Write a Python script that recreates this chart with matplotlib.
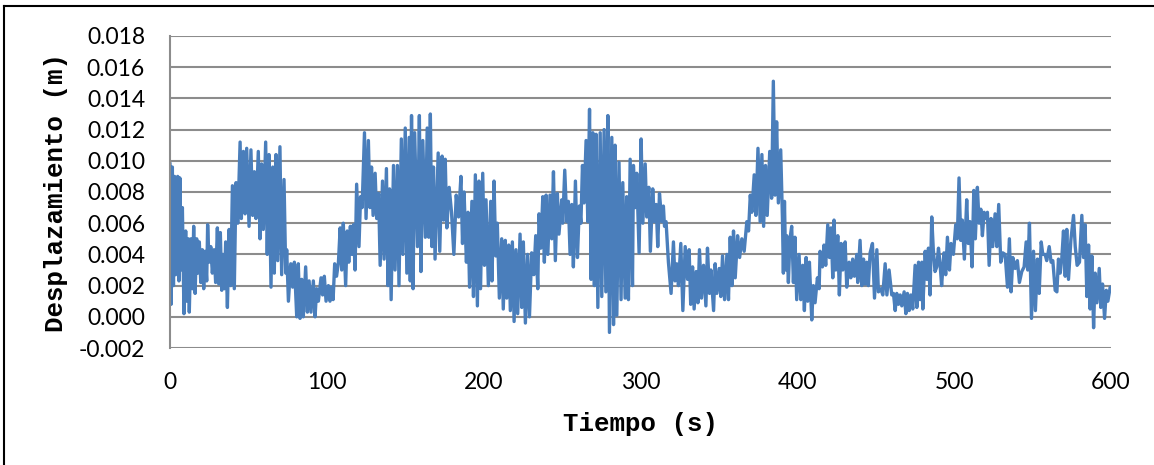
import matplotlib
matplotlib.use("Agg")
import matplotlib.pyplot as plt
from matplotlib.lines import Line2D

# time (s)
tiempo = [
    0.0, 0.7, 1.5, 2.2, 2.9, 3.6, 4.9, 5.7, 6.3, 7.0, 7.9, 8.9, 10.0, 10.6, 11.7, 12.3, 13.4, 14.3,
    15.1, 16.0, 17.0, 17.7, 18.7, 19.6, 20.6, 21.5, 22.3, 23.4, 24.0, 24.9, 26.0, 27.0, 28.1, 29.1,
    30.2, 31.1, 32.1, 33.0, 33.8, 34.7, 35.5, 36.6, 37.7, 38.7, 39.8, 41.0, 42.1, 43.2, 44.7, 45.5,
    46.8, 47.9, 48.9, 50.4, 51.6, 52.7, 53.8, 54.8, 56.3, 57.4, 58.4, 59.5, 61.0, 62.0, 63.1, 64.4,
    65.5, 66.5, 67.6, 68.7, 70.1, 71.2, 72.7, 73.8, 74.4, 75.5, 77.0, 78.2, 79.3, 80.8, 81.8, 82.9,
    84.0, 85.0, 86.5, 87.6, 88.7, 89.9, 91.4, 92.5, 93.5, 94.6, 96.3, 97.3, 98.4, 99.5, 101.0, 102.0,
    103.0, 104.0, 105.0, 106.2, 107.4, 108.5, 109.5, 110.5, 112.0, 113.0, 114.0, 115.0, 116.0, 117.0,
    118.0, 119.0, 120.5, 121.5, 122.5, 124.0, 125.0, 126.5, 127.5, 128.5, 129.5, 130.8, 131.8, 133.0,
    134.0, 135.5, 136.5, 138.0, 139.0, 140.0, 141.0, 142.5, 143.5, 145.0, 146.0, 147.5, 148.5, 150.0,
    151.0, 152.5, 153.2, 154.0, 155.0, 156.0, 157.8, 159.0, 160.0, 161.2, 162.8, 164.0, 165.0, 166.0,
    167.0, 168.0, 169.0, 171.0, 172.0, 173.5, 174.5, 175.5, 176.5, 178.0, 179.5, 181.0, 182.5, 184.0,
    185.5, 186.5, 187.5, 189.0, 190.0, 191.0, 192.5, 193.5, 194.7, 196.0, 197.0, 198.0, 199.4, 200.5,
    201.5, 203.0, 204.5, 205.3, 206.6, 207.7, 208.7, 210.0, 211.5, 212.5, 213.8, 214.7, 216.0, 217.0,
    218.3, 219.4, 220.6, 221.7, 223.2, 224.3, 225.3, 226.6, 228.0, 229.2, 230.6, 232.0, 233.2, 234.5,
    235.3, 236.4, 237.7, 238.7, 239.8, 240.9, 242.3, 243.4, 244.5, 245.7, 247.0, 248.0, 249.8, 250.4,
    251.7, 253.0, 254.0, 255.1, 256.2, 257.2, 258.5, 259.8, 261.0, 262.0, 263.0, 264.0, 265.3, 266.4,
    267.5, 268.5, 269.6, 270.6, 271.7, 272.8, 274.3, 275.3, 276.8, 277.9, 279.2, 280.2, 281.7, 282.8,
    283.8, 284.9, 286.3, 287.6, 288.7, 290.2, 291.2, 292.3, 293.4, 294.9, 295.5, 296.6, 297.6, 299.1,
    300.4, 301.5, 303.0, 304.0, 305.3, 306.3, 307.8, 308.9, 310.0, 311.0, 312.1, 313.6, 314.6, 315.3,
    316.3, 317.8, 319.5, 321.0, 322.0, 323.1, 324.2, 325.7, 327.0, 328.5, 330.0, 331.0, 332.0, 333.2,
    334.2, 335.5, 336.6, 337.6, 338.9, 340.2, 341.7, 342.7, 344.0, 344.9, 346.6, 347.6, 348.7, 350.2,
    351.2, 352.3, 353.6, 355.1, 356.1, 357.2, 358.3, 359.3, 360.4, 361.9, 363.2, 364.6, 366.1, 367.8,
    368.9, 370.0, 371.0, 372.5, 373.6, 374.9, 376.3, 377.4, 378.5, 379.7, 380.8, 382.4, 383.6, 384.7,
    385.8, 386.8, 387.9, 389.4, 390.5, 391.1, 391.8, 392.6, 393.2, 394.3, 395.3, 396.4, 397.5, 398.5,
    399.6, 401.1, 402.2, 403.4, 404.5, 405.6, 406.6, 407.7, 409.2, 410.2, 411.3, 412.8, 413.9, 414.5,
    416.0, 417.0, 418.1, 419.4, 420.5, 421.5, 422.6, 423.4, 424.5, 425.8, 426.8, 427.9, 429.0, 430.5,
    431.5, 433.0, 434.1, 435.3, 436.4, 437.9, 438.5, 440.0, 441.1, 442.2, 443.2, 444.3, 445.3, 446.4,
    447.9, 449.2, 450.7, 451.7, 453.2, 454.5, 456.0, 457.1, 458.5, 460.2, 461.3, 462.4, 463.4, 464.5,
    465.6, 466.6, 468.1, 469.2, 470.2, 471.3, 472.4, 473.6, 475.1, 476.2, 477.3, 478.3, 479.4, 480.0,
    481.5, 482.6, 483.6, 484.6, 485.7, 486.7, 487.8, 488.9, 490.0, 491.0, 492.0, 493.5, 494.6, 495.7,
    497.0, 498.0, 499.5, 501.0, 502.0, 503.1, 504.2, 505.2, 506.5, 508.0, 509.0, 510.1, 511.4, 512.5,
    513.5, 514.8, 515.9, 517.0, 518.0, 519.1, 520.1, 521.2, 522.3, 523.5, 524.6, 526.1, 527.2, 528.4,
    529.7, 531.0, 532.5, 534.0, 535.2, 536.3, 537.4, 538.9, 540.3, 541.6, 543.1, 544.6, 545.9, 546.9,
    548.0, 549.3, 550.6, 551.8, 553.1, 554.2, 555.5, 556.5, 558.0, 559.0, 560.6, 561.8, 562.9, 564.4,
    565.5, 566.5, 567.6, 568.6, 569.7, 570.8, 571.8, 572.9, 574.4, 576.1, 577.2, 578.4, 579.9, 581.4,
    582.5, 583.5, 584.6, 585.7, 586.7, 587.8, 588.9, 589.9, 591.0, 592.5, 593.5, 594.6, 595.9, 597.0,
    598.0, 599.5, 600.0,
]

# displacement in mm (converted to m below)
desplazamiento_mm = [
    9.8, 0.8, 9.6, 2.0, 9.0, 2.7, 9.0, 2.3, 8.9, 3.0, 7.0, 0.2, 5.5, 1.0, 5.0, 0.3, 5.0, 1.8,
    5.8, 1.5, 5.0, 2.8, 4.8, 2.2, 4.3, 1.8, 4.2, 2.3, 5.9, 3.5, 4.5, 2.8, 4.3, 2.2,
    5.7, 2.1, 5.4, 1.7, 4.0, 1.8, 4.8, 0.6, 5.6, 2.0, 8.4, 1.8, 8.6, 6.0, 11.2, 6.3,
    10.6, 6.6, 10.8, 5.8, 10.7, 6.5, 9.3, 6.3, 10.6, 5.0, 9.8, 5.6, 11.2, 4.0, 10.4, 1.9,
    9.6, 2.8, 10.4, 3.6, 10.9, 2.7, 8.8, 2.8, 4.3, 1.0, 3.4, 1.9, 3.5, 0.0, 3.4, -0.1,
    2.4, 0.0, 3.2, 0.3, 2.3, 0.3, 2.3, 0.0, 1.8, 1.0, 2.5, 1.4, 2.6, 1.0, 2.0, 1.0,
    1.9, 1.1, 3.4, 2.6, 3.5, 5.7, 3.0, 6.0, 2.0, 5.5, 3.5, 5.8, 4.0, 5.9,
    3.0, 8.5, 4.5, 7.7, 7.0, 11.8, 6.3, 11.3, 7.0, 9.6, 6.5, 9.2, 6.3, 7.9,
    3.3, 8.7, 3.7, 9.5, 2.0, 8.2, 1.1, 9.7, 3.0, 9.7, 2.0, 11.4, 4.0, 12.1,
    2.8, 11.5, 2.3, 12.9, 1.8, 11.8, 4.5, 12.9, 2.9, 11.3, 5.1, 12.1, 5.1, 13.0,
    4.5, 9.6, 3.7, 10.5, 4.2, 10.3, 6.2, 10.1, 5.7, 8.3, 6.7, 4.0, 7.8, 6.4,
    9.0, 4.7, 8.0, 3.5, 6.7, 1.9, 7.4, 1.3, 9.1, 0.7, 8.7, 1.8, 9.2, 3.3,
    7.5, 2.0, 7.4, 2.3, 8.7, 3.9, 6.0, 1.2, 5.0, 0.5, 4.9, 1.2, 4.6, 0.4,
    4.8, -0.3, 4.3, 0.2, 5.3, 0.6, 4.8, -0.4, 4.0, 0.0, 4.1, 2.7, 5.2, 1.8,
    6.6, 4.4, 7.7, 3.5, 7.8, 4.0, 7.8, 5.0, 9.3, 3.6, 7.9, 5.3, 7.5, 6.0,
    9.4, 6.1, 7.4, 4.0, 7.2, 3.2, 8.7, 3.8, 7.1, 6.0, 9.7, 7.3, 11.3, 6.1,
    13.3, 2.4, 11.8, 2.0, 11.7, 0.6, 11.8, 1.3, 12.0, 1.6, 12.9, -1.0, 11.5, -0.5,
    11.0, 0.1, 9.9, 1.1, 8.6, 1.2, 7.7, 1.1, 10.1, 2.0, 9.7, 7.0, 9.2, 4.1,
    11.4, 6.0, 9.8, 6.4, 8.3, 4.2, 8.2, 6.1, 7.2, 4.5, 7.9, 6.1, 7.1, 5.8,
    6.1, 3.5, 1.5, 4.8, 2.3, 3.4, 2.0, 4.7, 0.4, 4.5, 2.4, 4.3, 0.8, 3.2,
    0.5, 2.9, 0.9, 4.3, 1.2, 3.3, 0.7, 4.4, 1.5, 3.0, 0.4, 3.4, 1.5, 3.1,
    1.3, 3.9, 1.1, 4.0, 1.1, 5.1, 2.0, 5.5, 2.5, 5.2, 3.8, 5.0, 4.2, 6.1,
    5.5, 7.8, 6.7, 9.1, 6.5, 10.8, 6.1, 10.4, 5.8, 9.7, 6.5, 10.6, 7.6, 15.1,
    7.8, 12.5, 7.3, 10.7, 6.3, 2.8, 7.4, 3.0, 5.2, 2.2, 5.0, 5.8, 2.2, 5.1,
    1.1, 4.0, 1.1, 3.3, 0.4, 3.8, 1.0, 3.5, -0.2, 2.0, 0.9, 2.5, 1.8, 4.2,
    3.2, 4.6, 3.3, 5.9, 3.8, 5.7, 2.5, 6.2, 3.0, 5.2, 1.4, 4.7, 3.0, 4.8,
    1.9, 3.5, 2.5, 3.7, 2.6, 4.0, 2.2, 4.9, 2.0, 3.7, 2.1, 3.5, 2.0, 4.1,
    4.7, 1.2, 4.3, 1.6, 1.8, 1.4, 3.4, 1.4, 3.0, 1.4, 1.5, 0.4, 1.5, 0.8,
    1.4, 0.7, 1.6, 0.2, 1.5, 0.4, 1.4, 0.5, 3.3, 0.6, 3.5, 1.1, 3.5, 0.5,
    4.2, 2.4, 4.4, 1.4, 6.4, 4.3, 2.9, 3.2, 4.4, 3.4, 2.0, 4.1, 2.7, 5.1,
    3.0, 4.7, 4.0, 5.9, 5.0, 8.9, 4.9, 6.2, 3.7, 7.5, 4.7, 6.1, 3.2, 8.1,
    5.0, 8.3, 6.0, 6.9, 5.2, 6.7, 6.3, 6.7, 3.3, 6.3, 4.5, 6.6, 4.5, 7.2,
    3.5, 4.1, 4.0, 1.9, 5.0, 1.6, 3.8, 3.1, 3.6, 2.2, 2.9, 3.2, 4.8, 3.0,
    6.0, -0.1, 4.2, 0.4, 3.7, 1.5, 4.8, 4.0, 4.0, 3.6, 4.5, 3.5, 3.6, 1.7,
    1.6, 3.7, 2.8, 3.7, 5.5, 2.6, 5.6, 2.4, 4.9, 6.5, 4.5, 3.3, 3.5, 6.5,
    3.8, 5.9, 1.3, 4.6, 0.5, 3.9, -0.7, 2.8, 0.9, 3.1, 0.6, 2.1, -0.1, 1.7,
    1.0, 1.9, 1.8,
]
desplazamiento = [v / 1000.0 for v in desplazamiento_mm]

y_ticks = [-0.002, 0.000, 0.002, 0.004, 0.006, 0.008, 0.010, 0.012, 0.014, 0.016, 0.018]
x_ticks = [0, 100, 200, 300, 400, 500, 600]

W, H = 1154, 465
fig = plt.figure(figsize=(W / 100, H / 100), dpi=100)
ax = fig.add_axes([170 / W, 1 - 348 / H, (1111 - 170) / W, (348 - 36) / H])

ax.plot(tiempo, desplazamiento, color="#4a7ebb", linewidth=2.4, solid_joinstyle="round")

ax.set_xlim(0, 600)
ax.set_ylim(-0.002, 0.018)
ax.set_yticks(y_ticks)
ax.set_yticklabels([f"{v:.3f}" for v in y_ticks])
ax.set_xticks(x_ticks)
ax.set_xticklabels([str(v) for v in x_ticks])

ax.grid(axis="y", color="#8c8c8c", linewidth=1.5)
ax.set_axisbelow(True)
for s in ["top", "right", "bottom"]:
    ax.spines[s].set_visible(False)
ax.spines["left"].set_color("#8c8c8c")
ax.spines["left"].set_linewidth(1.5)
ax.tick_params(axis="both", length=0, labelsize=16.5, colors="black")
ax.tick_params(axis="y", pad=18)
ax.tick_params(axis="x", pad=17)
for lab in ax.get_xticklabels() + ax.get_yticklabels():
    lab.set_fontfamily("Lato")

ax.set_xlabel("Tiempo (s)", fontfamily="Liberation Mono", fontweight="bold", fontsize=18.5, labelpad=14)
ax.set_ylabel("Desplazamiento (m)", fontfamily="Liberation Mono", fontweight="bold", fontsize=18.5, labelpad=8)

# chart frame (top and left edges visible)
fig.add_artist(Line2D([4 / W, 1.0], [1 - 6 / H, 1 - 6 / H], transform=fig.transFigure, color="black", linewidth=1.5))
fig.add_artist(Line2D([4 / W, 4 / W], [0.0, 1 - 6 / H], transform=fig.transFigure, color="black", linewidth=1.5))

fig.savefig("out.png", dpi=100)
